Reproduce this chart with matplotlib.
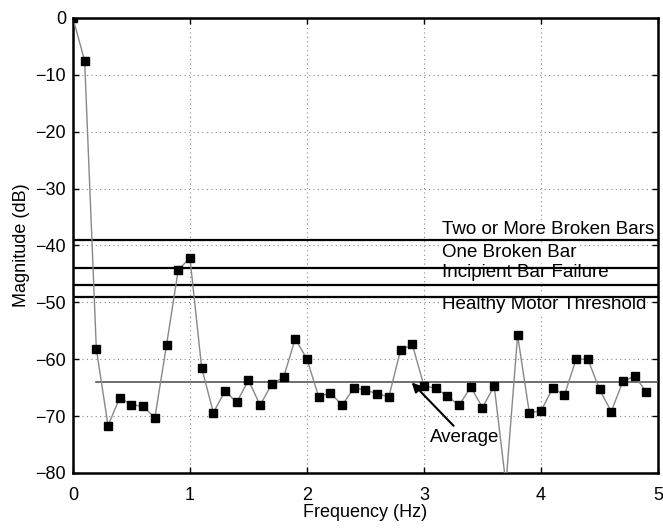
import matplotlib
matplotlib.use("Agg")
import matplotlib.pyplot as plt
import numpy as np

plt.rcParams['font.family'] = ['Liberation Sans', 'DejaVu Sans']

freq = [0.0, 0.1, 0.2, 0.3, 0.4, 0.5, 0.6, 0.7, 0.8, 0.9,
        1.0, 1.1, 1.2, 1.3, 1.4, 1.5, 1.6, 1.7, 1.8, 1.9,
        2.0, 2.1, 2.2, 2.3, 2.4, 2.5, 2.6, 2.7, 2.8, 2.9,
        3.0, 3.1, 3.2, 3.3, 3.4, 3.5, 3.6, 3.7, 3.8, 3.9,
        4.0, 4.1, 4.2, 4.3, 4.4, 4.5, 4.6, 4.7, 4.8, 4.9]
magnitude = [0.0, -7.5, -58.2, -71.7, -66.8, -68.0, -68.3, -70.3, -57.5, -44.3,
             -42.2, -61.5, -69.4, -65.6, -67.6, -63.7, -68.1, -64.3, -63.2, -56.4,
             -60.0, -66.6, -65.9, -68.1, -65.1, -65.4, -66.1, -66.6, -58.4, -57.4,
             -64.7, -65.1, -66.5, -68.1, -64.9, -68.5, -64.7, -82.0, -55.8, -69.4,
             -69.1, -65.1, -66.3, -60.0, -60.0, -65.3, -69.2, -63.9, -63.0, -65.7]

thresholds = [-39.0, -44.0, -47.0, -49.0]
threshold_labels = ["Two or More Broken Bars", "One Broken Bar",
                    "Incipient Bar Failure", "Healthy Motor Threshold"]
label_y = [-37.2, -41.3, -44.8, -50.4]
average = -64.0
average_start = 0.2

fig = plt.figure(figsize=(6.63, 5.29), dpi=100)
ax = fig.add_axes([0.110, 0.106, 0.8825, 0.860])

ax.grid(True, linestyle=(0, (1, 3)), color='#888888', linewidth=0.8)
ax.set_axisbelow(True)

for t in thresholds:
    ax.axhline(t, color='black', linewidth=1.6, zorder=3)

ax.plot([average_start, 5], [average, average], color='#555555', linewidth=1.2, zorder=3)

ax.plot(freq, magnitude, color='#888888', linewidth=1.0, marker='s',
        markersize=6, markerfacecolor='black', markeredgecolor='black', zorder=4)

for lab, y in zip(threshold_labels, label_y):
    ax.text(3.15, y, lab, fontsize=13.5, va='center', ha='left',
            bbox=dict(facecolor='white', edgecolor='none', pad=0.5), zorder=2)

ax.annotate("Average", xy=(2.895, -64.1), xytext=(3.05, -73.7),
            fontsize=13.5, va='center', ha='left',
            arrowprops=dict(arrowstyle='-|>', color='black', lw=1.5,
                            mutation_scale=14, shrinkA=0, shrinkB=0),
            zorder=5)

ax.set_xlim(0, 5)
ax.set_ylim(-80, 0)
ax.set_xticks([0, 1, 2, 3, 4, 5])
ax.set_yticks([0, -10, -20, -30, -40, -50, -60, -70, -80])
ax.set_yticklabels(['0', '\u221210', '\u221220', '\u221230', '\u221240', '\u221250',
                    '\u221260', '\u221270', '\u221280'])
ax.tick_params(direction='in', length=4, width=1, labelsize=13, top=True, right=True)
ax.tick_params(axis='x', pad=10)
ax.tick_params(axis='y', pad=5)
for s in ax.spines.values():
    s.set_linewidth(1.8)

ax.set_xlabel("Frequency (Hz)", fontsize=13, labelpad=0)
ax.set_ylabel("Magnitude (dB)", fontsize=13, labelpad=4)

fig.savefig("out.png", dpi=100)
